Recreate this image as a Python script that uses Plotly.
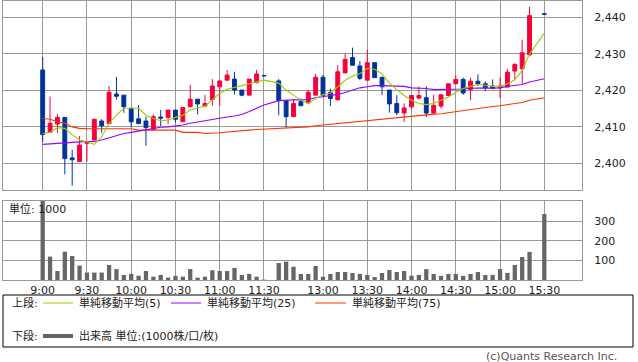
import plotly.graph_objects as go

# ---------------- data ----------------
# 5-minute slots: morning 9:00-11:30, one empty slot, afternoon 12:30-15:30
morning = [f"{9 + (m // 60)}:{m % 60:02d}" for m in range(0, 155, 5)]
afternoon = [f"{12 + ((30 + m) // 60)}:{(30 + m) % 60:02d}" for m in range(0, 185, 5)]
slots = morning + ["12:25"] + afternoon
times = [t for t in slots if t not in ("12:25", "15:25")]

opens = [2425.6, 2408.5, 2410.8, 2412.6, 2401.5, 2400.5, 2405.5, 2406.4, 2411.6, 2410.9,
         2419.0, 2418.7, 2415.1, 2412.2, 2411.6, 2409.3, 2412.7, 2412.6, 2414.6, 2411.4,
         2415.5, 2417.6, 2415.7, 2417.5, 2421.0, 2422.8, 2423.1, 2420.1, 2418.7, 2422.2,
         2424.1,
         2422.6, 2417.2, 2412.8, 2416.9, 2416.6, 2418.7, 2423.6, 2419.4, 2417.4, 2424.8,
         2429.0, 2426.7, 2422.8, 2427.6, 2423.6, 2420.1, 2416.4, 2413.8, 2415.5, 2417.9,
         2418.0, 2413.8, 2415.7, 2418.6, 2421.8, 2423.0, 2420.2, 2422.5, 2421.8, 2421.2,
         2420.7, 2420.9, 2425.3, 2425.9, 2429.7, 2441.0]
highs = [2429.2, 2418.3, 2413.5, 2412.6, 2403.7, 2407.5, 2406.0, 2412.1, 2412.1, 2421.2,
         2423.7, 2418.7, 2415.1, 2416.0, 2412.8, 2413.4, 2414.6, 2414.6, 2414.6, 2415.3,
         2421.5, 2417.6, 2418.7, 2423.1, 2422.6, 2425.6, 2425.1, 2420.1, 2423.1, 2425.6,
         2424.1,
         2423.1, 2417.2, 2417.6, 2417.8, 2420.1, 2424.5, 2424.2, 2420.5, 2426.9, 2430.1,
         2431.7, 2428.0, 2431.1, 2427.6, 2423.6, 2420.1, 2418.7, 2416.4, 2418.6, 2421.1,
         2421.1, 2418.8, 2418.8, 2421.8, 2424.1, 2423.5, 2423.5, 2424.4, 2422.5, 2423.0,
         2423.5, 2425.9, 2427.5, 2433.9, 2442.9, 2441.0]
lows = [2405.9, 2408.5, 2408.4, 2397.0, 2393.9, 2400.5, 2400.5, 2406.4, 2408.4, 2410.9,
        2417.5, 2413.9, 2409.9, 2410.9, 2404.8, 2409.3, 2410.2, 2410.8, 2411.2, 2411.4,
        2415.5, 2413.4, 2415.7, 2415.8, 2415.8, 2422.8, 2418.9, 2418.4, 2418.7, 2421.9,
        2424.0,
        2413.2, 2409.8, 2412.8, 2415.8, 2416.3, 2418.7, 2418.7, 2415.7, 2417.4, 2424.8,
        2426.9, 2422.8, 2422.8, 2423.5, 2418.7, 2413.9, 2413.2, 2411.4, 2414.8, 2417.5,
        2412.7, 2413.4, 2415.0, 2418.6, 2421.8, 2418.8, 2417.3, 2421.2, 2419.8, 2420.5,
        2417.9, 2420.9, 2423.0, 2421.8, 2429.7, 2440.9]
closes = [2407.9, 2411.0, 2412.6, 2401.3, 2401.0, 2405.0, 2406.0, 2412.1, 2410.3, 2419.5,
          2418.4, 2415.5, 2411.4, 2410.9, 2409.8, 2412.8, 2412.4, 2414.6, 2412.1, 2415.3,
          2417.6, 2416.3, 2416.4, 2421.2, 2422.6, 2424.2, 2420.1, 2418.7, 2423.1, 2424.5,
          2424.0,
          2417.2, 2412.8, 2416.4, 2415.8, 2419.5, 2423.6, 2418.7, 2417.8, 2425.1, 2428.5,
          2426.9, 2423.3, 2427.6, 2423.5, 2421.0, 2416.3, 2413.9, 2415.2, 2418.6, 2418.6,
          2413.8, 2415.9, 2418.8, 2421.8, 2423.0, 2419.3, 2422.5, 2421.8, 2420.7, 2420.5,
          2421.2, 2425.0, 2427.1, 2430.3, 2440.5, 2440.9]

ma5 = [2408.2, 2408.5, 2409.8, 2409.6, 2407.8, 2406.4, 2405.9, 2405.2, 2407.3, 2411.0,
       2413.2, 2415.1, 2415.1, 2415.1, 2413.2, 2412.3, 2411.7, 2411.9, 2412.6, 2413.2,
       2414.6, 2415.1, 2415.7, 2417.4, 2419.2, 2420.3, 2420.8, 2421.2, 2421.7, 2422.4,
       2422.8,
       2422.0, 2420.1, 2418.7, 2417.4, 2416.4, 2417.8, 2418.9, 2419.2, 2421.0, 2422.8,
       2423.9, 2424.6, 2426.0, 2425.8, 2424.5, 2422.0, 2420.2, 2418.6, 2417.3, 2416.4,
       2416.1, 2416.4, 2417.3, 2418.2, 2419.5, 2420.5, 2421.1, 2421.6, 2421.4, 2421.1,
       2421.1, 2421.8, 2422.9, 2425.5, 2430.0, 2435.7]
ma25 = [2405.2, 2405.3, 2405.5, 2405.7, 2405.8, 2405.9, 2406.0, 2406.0, 2406.4, 2407.0,
        2407.8, 2408.2, 2408.5, 2408.9, 2409.1, 2409.6, 2409.9, 2410.0, 2410.2, 2410.5,
        2411.0, 2411.3, 2411.6, 2412.0, 2412.3, 2412.7, 2413.0, 2413.4, 2414.2, 2415.1,
        2416.0,
        2417.2, 2417.4, 2417.4, 2417.4, 2417.5, 2418.0, 2418.3, 2418.4, 2418.9, 2419.4,
        2420.1, 2420.7, 2421.0, 2421.3, 2421.3, 2421.2, 2421.2, 2421.1, 2420.7, 2420.7,
        2420.5, 2420.2, 2420.2, 2420.2, 2420.2, 2420.4, 2420.6, 2420.7, 2420.7, 2420.6,
        2420.7, 2421.1, 2421.4, 2421.6, 2422.3, 2423.2]
ma75 = [2412.3, 2412.1, 2411.4, 2411.0, 2410.0, 2409.6, 2409.5, 2409.5, 2409.5, 2409.5,
        2409.5, 2409.5, 2409.5, 2409.1, 2409.1, 2409.1, 2409.1, 2409.1, 2409.1, 2408.5,
        2408.5, 2408.5, 2408.2, 2408.2, 2408.4, 2408.6, 2408.7, 2408.9, 2409.1, 2409.3,
        2409.4,
        2409.6, 2409.7, 2409.9, 2410.0, 2410.0, 2410.3, 2410.5, 2410.7, 2410.9, 2411.1,
        2411.3, 2411.6, 2411.9, 2412.1, 2412.3, 2412.5, 2412.6, 2412.7, 2412.9, 2413.1,
        2413.3, 2413.5, 2413.6, 2413.9, 2414.3, 2414.5, 2414.8, 2415.1, 2415.4, 2415.6,
        2415.8, 2416.1, 2416.4, 2416.7, 2417.3, 2418.0]

volume = [410, 120, 46, 145, 123, 74, 38, 38, 38, 77,
          56, 26, 31, 22, 46, 17, 26, 12, 21, 17,
          56, 12, 17, 50, 46, 46, 62, 26, 31, 17,
          2,
          87, 94, 68, 31, 31, 72, 17, 31, 41, 41,
          36, 31, 26, 15, 36, 51, 41, 46, 22, 26,
          56, 31, 21, 31, 31, 21, 31, 41, 26, 26,
          56, 36, 77, 118, 144, 338]

tick_labels = ["9:00", "9:30", "10:00", "10:30", "11:00", "11:30",
               "13:00", "13:30", "14:00", "14:30", "15:00", "15:30"]
price_ticks = [2400, 2410, 2420, 2430, 2440]
volume_ticks = [100, 200, 300]

# ---------------- style ----------------
W, H = 638, 362
RED = "#f5003c"
BLUE = "#003399"
C_MA5 = "#99cc00"
C_MA25 = "#9900ff"
C_MA75 = "#ff3300"
VOL = "#666666"
GRID = "#999999"
TXT = "#222222"
FONT = "DejaVu Sans, Noto Sans CJK JP, sans-serif"


def px(x):
    return x / W


def py(y):
    return 1 - y / H


fig = go.Figure()

fig.add_trace(go.Candlestick(
    x=times, open=opens, high=highs, low=lows, close=closes,
    increasing=dict(line=dict(color=RED, width=1), fillcolor=RED),
    decreasing=dict(line=dict(color=BLUE, width=1), fillcolor=BLUE),
    whiskerwidth=0, showlegend=False, hoverinfo="skip",
    xaxis="x", yaxis="y"))

for vals, col in ((ma75, C_MA75), (ma25, C_MA25), (ma5, C_MA5)):
    fig.add_trace(go.Scatter(x=times, y=vals, mode="lines",
                             line=dict(color=col, width=1.1),
                             showlegend=False, hoverinfo="skip",
                             xaxis="x", yaxis="y"))

fig.add_trace(go.Bar(x=times, y=volume, marker=dict(color=VOL, line=dict(width=0)),
                     width=0.58, showlegend=False, hoverinfo="skip",
                     xaxis="x2", yaxis="y2"))

xr = [-5.38, 73.11]
common_x = dict(type="category", categoryorder="array", categoryarray=slots,
                range=xr, tickvals=tick_labels, showgrid=True, gridcolor=GRID,
                gridwidth=1, showline=True, mirror=True, linecolor=GRID,
                linewidth=1, zeroline=False, ticks="", fixedrange=True)

fig.update_layout(
    width=W, height=H,
    margin=dict(l=0, r=0, t=0, b=0),
    paper_bgcolor="white", plot_bgcolor="white",
    font=dict(family=FONT, size=11, color=TXT),
    boxgap=0.25,
    hovermode=False,
    xaxis=dict(domain=[px(3), px(582)], anchor="y", showticklabels=False,
               rangeslider=dict(visible=False), **common_x),
    yaxis=dict(domain=[py(190), py(1)], anchor="x", side="right",
               range=[2392.7, 2444.5], tickvals=price_ticks, tickformat=",d",
               showgrid=True, gridcolor=GRID, showline=True, mirror=True,
               linecolor=GRID, zeroline=False, ticks="", ticklabelstandoff=9,
               tickfont=dict(size=11, color=TXT), fixedrange=True),
    xaxis2=dict(domain=[px(3), px(582)], anchor="y2", showticklabels=True,
                tickfont=dict(size=11, color=TXT), ticklabelstandoff=0,
                **common_x),
    yaxis2=dict(domain=[py(280), py(201)], anchor="x2", side="right",
                range=[0, 405], tickvals=volume_ticks,
                showgrid=True, gridcolor=GRID, showline=True, mirror=True,
                linecolor=GRID, zeroline=False, ticks="", ticklabelstandoff=9,
                tickfont=dict(size=11, color=TXT), fixedrange=True),
)

shapes = [
    dict(type="rect", xref="paper", yref="paper", x0=px(3), x1=px(633),
         y0=py(347), y1=py(295), line=dict(color="#000000", width=1)),
    dict(type="line", xref="paper", yref="paper", x0=px(43), x1=px(73),
         y0=py(303), y1=py(303), line=dict(color=C_MA5, width=1)),
    dict(type="line", xref="paper", yref="paper", x0=px(171), x1=px(201),
         y0=py(303), y1=py(303), line=dict(color=C_MA25, width=1)),
    dict(type="line", xref="paper", yref="paper", x0=px(315), x1=px(346),
         y0=py(303), y1=py(303), line=dict(color=C_MA75, width=1)),
    dict(type="line", xref="paper", yref="paper", x0=px(43), x1=px(73),
         y0=py(336), y1=py(336), line=dict(color=VOL, width=4)),
]
fig.update_layout(shapes=shapes)


def note(text, x, y, anchor="left", size=11, color=TXT):
    fig.add_annotation(text=text, xref="paper", yref="paper", x=px(x), y=py(y),
                       xanchor=anchor, yanchor="middle", showarrow=False,
                       font=dict(size=size, color=color, family=FONT))


note("上段:", 10, 303)
note("単純移動平均(5)", 77, 303)
note("単純移動平均(25)", 205, 303)
note("単純移動平均(75)", 350, 303)
note("下段:", 10, 336)
note("出来高 単位:(1000株/口/枚)", 77, 336)
note("単位: 1000", 7, 209)
note("(c)Quants Research Inc.", 619, 356, anchor="right", color="#555555")

fig.write_html("out.html",
               config={"displayModeBar": False, "staticPlot": True},
               post_script="document.body.style.margin='0';"
                           "document.body.style.overflow='hidden';")
